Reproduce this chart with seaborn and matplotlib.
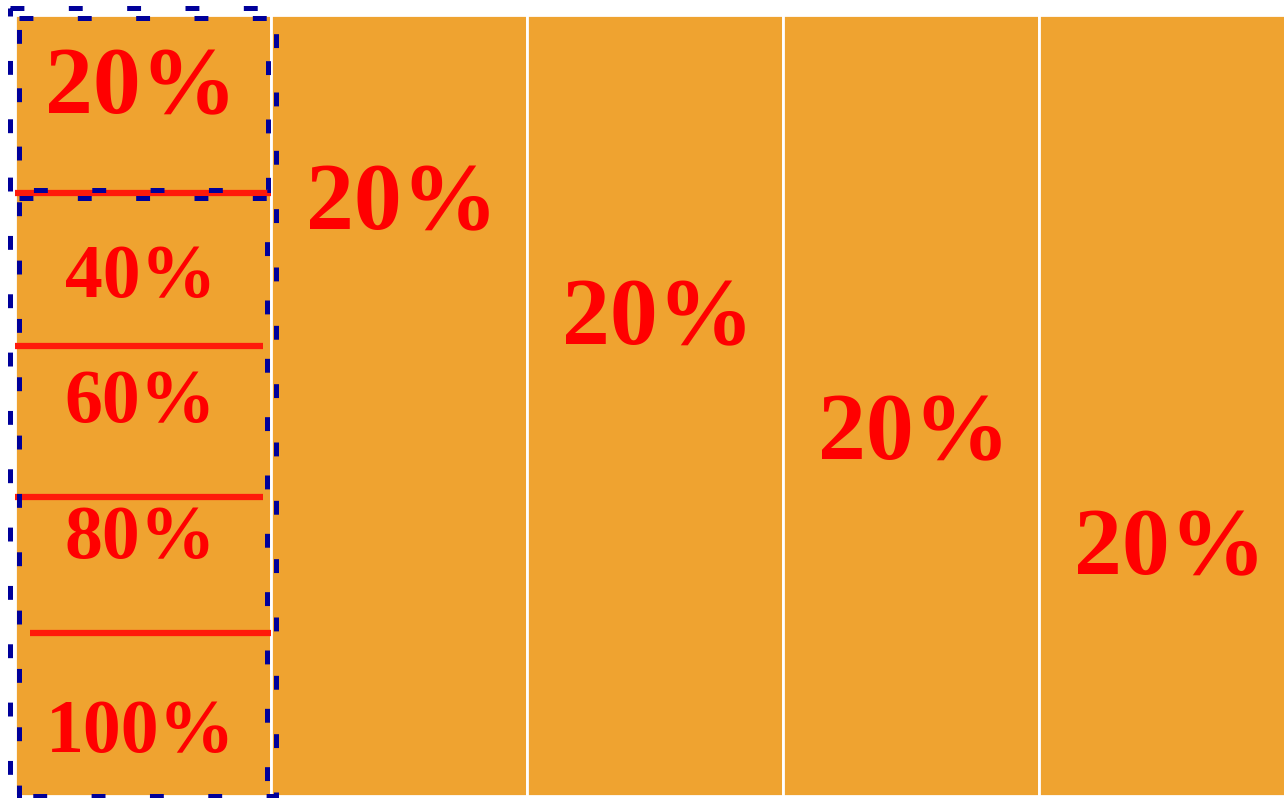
import matplotlib
matplotlib.use("Agg")
import matplotlib.pyplot as plt
import seaborn as sns
import pandas as pd
from matplotlib.patches import Rectangle

# ---- data ----
columns = ["c1", "c2", "c3", "c4", "c5"]
column_height = [100, 100, 100, 100, 100]
column_labels = ["", "20%", "20%", "20%", "20%"]
column_label_pos = [None, 24.5, 39.2, 53.9, 68.7]

first_col_labels = ["20%", "40%", "60%", "80%", "100%"]
first_col_label_pos = [9.6, 33.7, 49.7, 67.1, 92.0]
divider_pos = [22.8, 42.4, 61.7, 79.1]

ORANGE = "#EFA330"
RED = "#FF0000"
LINE_RED = "#FF1A0A"
NAVY = "#00009A"

sns.set_theme(style="white")
plt.rcParams["font.family"] = ["Liberation Serif", "DejaVu Serif"]
plt.rcParams["lines.scale_dashes"] = False

fig = plt.figure(figsize=(12.84, 7.98), dpi=100)
fig.patch.set_facecolor("white")
ax = fig.add_axes([15 / 1284, 2 / 798, 1280 / 1284, 781 / 798])

df = pd.DataFrame({"col": columns, "h": column_height})
sns.barplot(data=df, x="col", y="h", color=ORANGE, saturation=1, width=1,
            edgecolor="white", linewidth=2, ax=ax)

ax.set_xlim(-0.5, 4.5)
ax.set_ylim(100, 0)
ax.set_axis_off()

# labels in the columns 2-5
for i, (lab, pos) in enumerate(zip(column_labels, column_label_pos)):
    if lab:
        ax.text(i + 0.01, pos, lab, ha="center", va="center", color=RED,
                fontsize=69, fontweight="bold")

# first column breakdown
for lab, pos in zip(first_col_labels, first_col_label_pos):
    size = 69 if lab == "20%" else 54.5
    ax.text(-0.01, pos, lab, ha="center", va="center", color=RED,
            fontsize=size, fontweight="bold")

for j, pos in enumerate(divider_pos):
    x0 = -0.44 if j == len(divider_pos) - 1 else -0.5
    x1 = 0.5 if j in (0, len(divider_pos) - 1) else 0.47
    ax.plot([x0, x1], [pos, pos], color=LINE_RED, lw=4.5,
            solid_capstyle="butt", clip_on=False)

# dashed blue frames
dash = (0, (10, 32))
frames = [
    (-0.52, -0.9, 1.04, 100.9),
    (-0.485, 0.4, 0.975, 22.0),
    (-0.485, 23.4, 0.97, 77.4),
]
for x, y, w, h in frames:
    ax.add_patch(Rectangle((x, y), w, h, fill=False, edgecolor=NAVY,
                           lw=3.6, linestyle=dash, clip_on=False, zorder=5))

fig.savefig("out.png", dpi=100, facecolor="white")
